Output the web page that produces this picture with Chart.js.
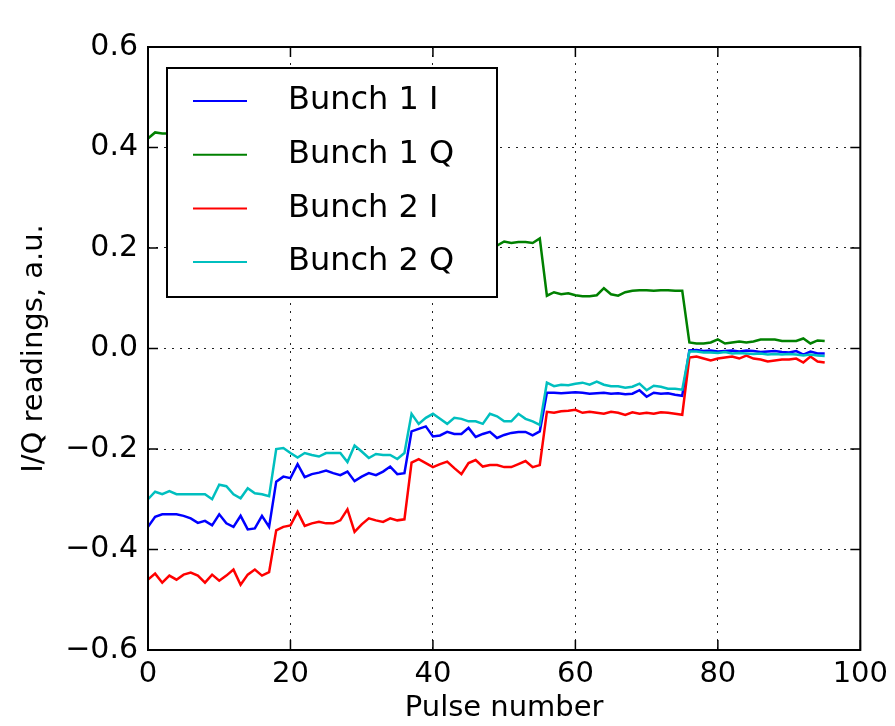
<!DOCTYPE html>
<html>
  <head>
    <title>I/Q readings</title>
    <script src="https://cdn.jsdelivr.net/npm/chart.js"></script>
    <style>
      body { margin: 0; background: #fff; }
    </style>
  </head>
  <body>
    <canvas id="myChart" width="895" height="726"></canvas>
    <script>
      // pulse numbers 0..95
      var pulses = Array.from(Array(96).keys());

      var bunch1I = [
        -0.355, -0.335, -0.330, -0.330, -0.330, -0.333, -0.338, -0.347, -0.343, -0.352, -0.330, -0.348, -0.355, -0.333, -0.360, -0.358, -0.333, -0.355,
        -0.265, -0.255, -0.258, -0.230, -0.256, -0.250, -0.247, -0.243, -0.248, -0.252, -0.245, -0.264, -0.255, -0.248, -0.252, -0.245, -0.235, -0.250, -0.248,
        -0.165, -0.160, -0.155, -0.175, -0.173, -0.166, -0.170, -0.170, -0.158, -0.176, -0.170, -0.166, -0.178, -0.172, -0.168, -0.166, -0.166, -0.173, -0.165,
        -0.088, -0.088, -0.089, -0.088, -0.087, -0.088, -0.090, -0.089, -0.088, -0.090, -0.089, -0.091, -0.090, -0.083, -0.096, -0.088, -0.090, -0.089, -0.092, -0.094,
        -0.004, -0.003, -0.005, -0.004, -0.006, -0.005, -0.004, -0.006, -0.004, -0.005, -0.007, -0.006, -0.005, -0.007, -0.008, -0.005, -0.012, -0.006, -0.010, -0.010
      ];
      var bunch1Q = [
        0.418, 0.430, 0.428, 0.428, 0.425, 0.426, 0.424, 0.427, 0.425, 0.423, 0.426, 0.424, 0.427, 0.425, 0.423, 0.426, 0.424, 0.425,
        0.320, 0.318, 0.322, 0.316, 0.320, 0.318, 0.321, 0.317, 0.319, 0.322, 0.318, 0.316, 0.320, 0.319, 0.321, 0.318, 0.317, 0.320, 0.318,
        0.212, 0.210, 0.214, 0.208, 0.211, 0.213, 0.209, 0.212, 0.210, 0.211, 0.208, 0.212, 0.205, 0.213, 0.210, 0.212, 0.212, 0.210, 0.219,
        0.105, 0.112, 0.108, 0.110, 0.106, 0.104, 0.104, 0.106, 0.120, 0.108, 0.105, 0.112, 0.115, 0.116, 0.116, 0.115, 0.116, 0.116, 0.115, 0.115,
        0.012, 0.010, 0.010, 0.012, 0.018, 0.010, 0.012, 0.014, 0.012, 0.014, 0.018, 0.018, 0.018, 0.015, 0.015, 0.015, 0.020, 0.010, 0.016, 0.015
      ];
      var bunch2I = [
        -0.460, -0.448, -0.466, -0.452, -0.460, -0.450, -0.446, -0.452, -0.466, -0.450, -0.462, -0.452, -0.440, -0.470, -0.450, -0.440, -0.452, -0.445,
        -0.362, -0.355, -0.352, -0.325, -0.353, -0.348, -0.345, -0.348, -0.348, -0.342, -0.320, -0.365, -0.350, -0.338, -0.342, -0.345, -0.338, -0.342, -0.340,
        -0.227, -0.220, -0.228, -0.236, -0.230, -0.225, -0.238, -0.250, -0.228, -0.222, -0.235, -0.232, -0.232, -0.236, -0.236, -0.230, -0.224, -0.236, -0.232,
        -0.126, -0.128, -0.125, -0.124, -0.122, -0.128, -0.126, -0.128, -0.130, -0.126, -0.128, -0.132, -0.127, -0.130, -0.128, -0.130, -0.127, -0.128, -0.130, -0.132,
        -0.018, -0.016, -0.020, -0.024, -0.020, -0.018, -0.016, -0.020, -0.014, -0.020, -0.022, -0.026, -0.024, -0.022, -0.022, -0.020, -0.028, -0.016, -0.026, -0.028
      ];
      var bunch2Q = [
        -0.300, -0.285, -0.290, -0.284, -0.290, -0.290, -0.290, -0.290, -0.290, -0.300, -0.271, -0.274, -0.290, -0.298, -0.278, -0.288, -0.290, -0.294,
        -0.200, -0.198, -0.208, -0.217, -0.208, -0.212, -0.215, -0.208, -0.208, -0.208, -0.226, -0.193, -0.205, -0.218, -0.210, -0.212, -0.212, -0.220, -0.208,
        -0.130, -0.150, -0.138, -0.130, -0.140, -0.150, -0.138, -0.140, -0.145, -0.145, -0.150, -0.130, -0.135, -0.145, -0.145, -0.130, -0.140, -0.145, -0.152,
        -0.068, -0.075, -0.072, -0.073, -0.070, -0.068, -0.072, -0.066, -0.072, -0.075, -0.075, -0.078, -0.076, -0.070, -0.083, -0.074, -0.076, -0.080, -0.080, -0.082,
        -0.006, -0.006, -0.008, -0.008, -0.009, -0.007, -0.010, -0.009, -0.010, -0.011, -0.010, -0.012, -0.011, -0.012, -0.011, -0.012, -0.014, -0.012, -0.014, -0.015
      ];

      var seriesNames = ["Bunch 1 I", "Bunch 1 Q", "Bunch 2 I", "Bunch 2 Q"];
      var seriesColors = ["#0000ff", "#008000", "#ff0000", "#00bfbf"];
      var seriesValues = [bunch1I, bunch1Q, bunch2I, bunch2Q];
      var xTicks = [0, 20, 40, 60, 80, 100];
      var yTicks = [-0.6, -0.4, -0.2, 0.0, 0.2, 0.4, 0.6];

      var FONT = "'DejaVu Sans', sans-serif";

      function toPoints(vals) {
        return pulses.map(function (p, i) {
          return { x: p, y: vals[i] };
        });
      }

      var datasets = seriesNames.map(function (name, i) {
        return {
          label: name,
          data: toPoints(seriesValues[i]),
          borderColor: seriesColors[i],
          borderWidth: 2.5,
          pointRadius: 0,
          fill: false,
          tension: 0,
          order: 4 - i, // later series on top, like matplotlib
        };
      });

      // frame, inward ticks and boxed legend (matplotlib classic look)
      var framePlugin = {
        id: "frame",
        afterDatasetsDraw: function (chart) {
          var ctx = chart.ctx;
          var a = chart.chartArea;
          var xs = chart.scales.x;
          var ys = chart.scales.y;
          ctx.save();
          ctx.strokeStyle = "#000";
          ctx.lineWidth = 1.5;
          ctx.beginPath();
          xTicks.forEach(function (t) {
            var px = xs.getPixelForValue(t);
            ctx.moveTo(px, a.bottom);
            ctx.lineTo(px, a.bottom - 10);
            ctx.moveTo(px, a.top);
            ctx.lineTo(px, a.top + 10);
          });
          yTicks.forEach(function (t) {
            var py = ys.getPixelForValue(t);
            ctx.moveTo(a.left, py);
            ctx.lineTo(a.left + 10, py);
            ctx.moveTo(a.right, py);
            ctx.lineTo(a.right - 10, py);
          });
          ctx.stroke();
          ctx.lineWidth = 2;
          ctx.strokeRect(a.left, a.top, a.right - a.left, a.bottom - a.top);

          // legend box
          var lx = 167, ly = 68, lw = 330, lh = 229;
          ctx.fillStyle = "#fff";
          ctx.fillRect(lx, ly, lw, lh);
          ctx.strokeRect(lx, ly, lw, lh);
          ctx.font = "32px " + FONT;
          ctx.textBaseline = "middle";
          ctx.textAlign = "left";
          chart.data.datasets.forEach(function (ds, i) {
            var y = 101 + i * 53.7;
            ctx.strokeStyle = ds.borderColor;
            ctx.lineWidth = 2;
            ctx.beginPath();
            ctx.moveTo(193, y);
            ctx.lineTo(247, y);
            ctx.stroke();
            ctx.fillStyle = "#000";
            ctx.fillText(ds.label, 288, y);
          });
          ctx.restore();
        },
      };

      var ctx = document.getElementById("myChart").getContext("2d");
      var myChart = new Chart(ctx, {
        type: "line",
        data: { datasets: datasets },
        options: {
          responsive: false,
          animation: false,
          layout: { padding: { top: 47, right: 30, left: 0, bottom: 0 } },
          plugins: {
            legend: { display: false },
            tooltip: { enabled: false },
          },
          scales: {
            x: {
              type: "linear",
              min: 0,
              max: 100,
              afterBuildTicks: function (scale) {
                scale.ticks = xTicks.map(function (v) { return { value: v }; });
              },
              afterFit: function (scale) {
                scale.height = 76;
              },
              grid: { color: "#222", lineWidth: 1, drawTicks: false },
              border: { display: false, dash: [2, 6] },
              ticks: {
                color: "#000",
                padding: 7,
                maxRotation: 0,
                font: { family: FONT, size: 29 },
                callback: function (v) { return String(v); },
              },
              title: {
                display: true,
                text: "Pulse number",
                color: "#000",
                font: { family: FONT, size: 29 },
                padding: { top: 0, bottom: 0 },
              },
            },
            y: {
              type: "linear",
              min: -0.6,
              max: 0.6,
              afterBuildTicks: function (scale) {
                scale.ticks = yTicks.map(function (v) { return { value: v }; });
              },
              afterFit: function (scale) {
                scale.width = 148;
              },
              grid: { color: "#222", lineWidth: 1, drawTicks: false },
              border: { display: false, dash: [2, 6] },
              ticks: {
                color: "#000",
                padding: 10,
                font: { family: FONT, size: 30 },
                callback: function (v) {
                  if (Math.abs(v) < 1e-9) return "0.0";
                  return v.toFixed(1).replace("-", "\u2212");
                },
              },
              title: {
                display: true,
                text: "I/Q readings, a.u.",
                color: "#000",
                font: { family: FONT, size: 29 },
                padding: { top: 17, bottom: 0 },
              },
            },
          },
        },
        plugins: [framePlugin],
      });
    </script>
  </body>
</html>
